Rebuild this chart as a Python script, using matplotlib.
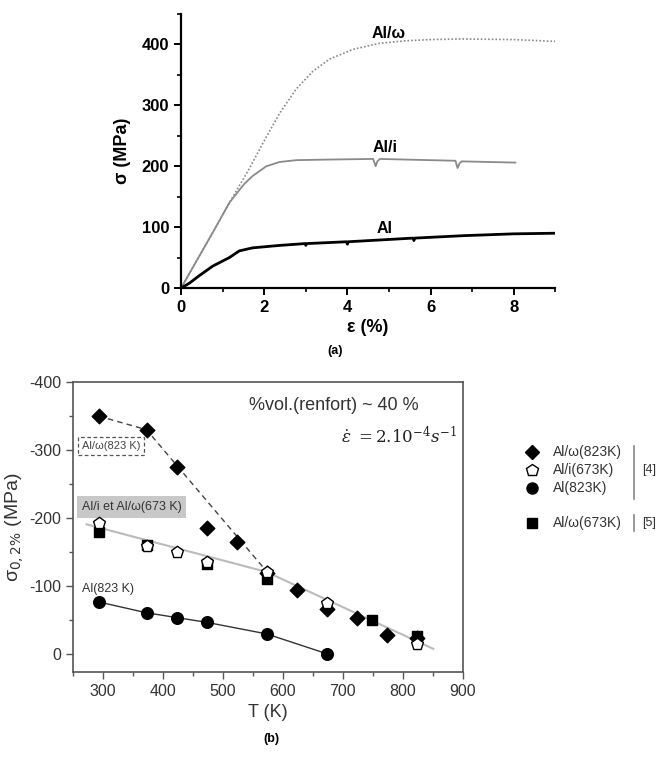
import numpy as np
import matplotlib.pyplot as plt
from matplotlib.ticker import MultipleLocator
from matplotlib.lines import Line2D

plt.rcParams['font.family'] = ['Liberation Sans', 'DejaVu Sans']
plt.rcParams['axes.unicode_minus'] = False

# ---- (a) stress-strain curves ----
eps_alw = [0, 0.4, 0.76, 1.16, 1.4, 1.64, 1.96, 2.37, 2.77, 3.17, 3.57, 4.14, 4.78, 5.4, 5.99, 6.79, 8.0, 9.0]
sig_alw = [0, 48, 91, 140, 168, 196, 237, 287, 327, 356, 376, 392, 402, 406, 408, 409, 408, 405]

eps_ali = [0, 0.4, 0.76, 1.16, 1.32, 1.52, 1.72, 2.05, 2.37, 2.77, 3.57, 4.62, 4.68, 4.72, 4.78,
           6.6, 6.65, 6.7, 6.75, 8.04]
sig_ali = [0, 48, 91, 140, 154, 171, 184, 200, 207, 210, 211, 212, 200, 208, 212,
           209, 197, 205, 208, 206]

eps_al = [0, 0.2, 0.43, 0.76, 1.16, 1.4, 1.72, 2.37, 2.98, 3.0, 3.02, 3.98, 4.0, 4.02,
          5.58, 5.6, 5.62, 6.79, 8.0, 9.0]
sig_al = [0, 8, 20, 36, 50, 61, 66, 70, 73, 70, 73, 76, 72, 76, 82, 78, 82, 86, 89, 90]

# ---- (b) yield stress vs temperature ----
T_alw823 = [293, 373, 423, 473, 523, 573, 623, 673, 723, 773, 823]
s_alw823 = [-350, -330, -275, -185, -165, -120, -94, -67, -53, -28, -24]

T_ali673 = [293, 373, 423, 473, 573, 673, 823]
s_ali673 = [-193, -159, -150, -135, -121, -75, -15]

T_al823 = [293, 373, 423, 473, 573, 673]
s_al823 = [-77, -61, -54, -47, -30, -1]

T_alw673 = [293, 373, 473, 573, 748, 823]
s_alw673 = [-179, -161, -133, -111, -51, -27]

T_dash = [293, 373, 573]
s_dash = [-350, -330, -122]
T_trend = [273, 573, 851]
s_trend = [-191, -121, -8]

fig = plt.figure(figsize=(6.61, 7.57), dpi=100)

# top panel
ax1 = fig.add_axes([0.274, 0.6195, 0.566, 0.362])
ax1.plot(eps_alw, sig_alw, color='#888888', lw=1.2, ls=(0, (1, 1.2)))
ax1.plot(eps_ali, sig_ali, color='#8a8a8a', lw=1.3)
ax1.plot(eps_al, sig_al, color='black', lw=2.0)
ax1.set_xlim(0, 9)
ax1.set_ylim(0, 450)
ax1.spines['top'].set_visible(False)
ax1.spines['right'].set_visible(False)
for s in ['left', 'bottom']:
    ax1.spines[s].set_linewidth(1.6)
ax1.xaxis.set_major_locator(MultipleLocator(2))
ax1.xaxis.set_minor_locator(MultipleLocator(1))
ax1.yaxis.set_major_locator(MultipleLocator(100))
ax1.yaxis.set_minor_locator(MultipleLocator(50))
ax1.tick_params(which='major', direction='out', length=5, width=1.4, labelsize=12)
ax1.tick_params(which='minor', direction='out', length=3, width=1.2)
for lab in ax1.get_xticklabels() + ax1.get_yticklabels():
    lab.set_fontweight('bold')
ax1.set_xlabel('ε (%)', fontsize=13, fontweight='bold', labelpad=3)
ax1.set_ylabel('σ (MPa)', fontsize=13, fontweight='bold', labelpad=8)
ax1.text(5.0, 418, 'Al/ω', fontsize=11.5, fontweight='bold', ha='center', va='center')
ax1.text(4.9, 230, 'Al/i', fontsize=11.5, fontweight='bold', ha='center', va='center')
ax1.text(4.9, 97, 'Al', fontsize=11.5, fontweight='bold', ha='center', va='center')
fig.text(0.507, 0.533, '(a)', fontsize=9, fontweight='bold', ha='center')

# bottom panel
ax2 = fig.add_axes([0.110, 0.1123, 0.590, 0.383])
gray_edge = '#555555'
ax2.plot(T_dash, s_dash, color='#444444', lw=1.0, ls=(0, (4, 3)), zorder=2)
ax2.plot(T_trend, s_trend, color='#bbbbbb', lw=1.5, zorder=1)
ax2.plot(T_al823, s_al823, color='#333333', lw=1.0, zorder=2)
ax2.scatter(T_alw823, s_alw823, marker='D', s=55, color='black', zorder=4)
ax2.scatter(T_alw673, s_alw673, marker='s', s=45, color='black', zorder=3)
ax2.scatter(T_ali673, s_ali673, marker='p', s=80, facecolor='white', edgecolor='black', lw=1.0, zorder=5)
ax2.scatter(T_al823, s_al823, marker='o', s=70, color='black', zorder=4)
ax2.set_xlim(250, 900)
ax2.set_ylim(26, -400)
for s in ax2.spines.values():
    s.set_color(gray_edge)
    s.set_linewidth(1.2)
ax2.xaxis.set_major_locator(MultipleLocator(100))
ax2.xaxis.set_minor_locator(MultipleLocator(50))
ax2.yaxis.set_major_locator(MultipleLocator(100))
ax2.yaxis.set_minor_locator(MultipleLocator(50))
ax2.tick_params(which='major', direction='out', length=5, width=1.0, color=gray_edge,
                labelsize=11.5, labelcolor='#333333')
ax2.tick_params(which='minor', direction='out', length=3, width=1.0, color=gray_edge)
ax2.set_xlabel('T (K)', fontsize=13, color='#333333', labelpad=4)
ax2.set_ylabel('σ$_{0,2\\%}$ (MPa)', fontsize=14, color='#333333', labelpad=2)
ax2.text(0.67, 0.92, '%vol.(renfort) ~ 40 %', transform=ax2.transAxes, fontsize=13,
         color='#333333', ha='center', va='center')
ax2.text(0.985, 0.815, r'$\dot{\epsilon}\ =2.10^{-4}s^{-1}$', transform=ax2.transAxes,
         fontsize=12, color='#222222', ha='right', va='center', math_fontfamily='dejavuserif')
ax2.text(265, -306, 'Al/ω(823 K)', fontsize=8, color='#444444', va='center',
         bbox=dict(boxstyle='square,pad=0.35', facecolor='white', edgecolor='#555555',
                   ls=(0, (3, 2)), lw=0.9))
ax2.text(265, -216, 'Al/i et Al/ω(673 K)', fontsize=9, color='#333333', va='center',
         bbox=dict(boxstyle='square,pad=0.4', facecolor='#c8c8c8', edgecolor='none'))
ax2.text(265, -96, 'Al(823 K)', fontsize=9, color='#333333', va='center')
fig.text(0.411, 0.020, '(b)', fontsize=9, fontweight='bold', ha='center')

# external legend
leg_x_mark = 0.805
leg_x_text = 0.836
rows = [(0.403, 'D', 'black', 'black', 'Al/ω(823K)', 7),
        (0.379, 'p', 'white', 'black', 'Al/i(673K)', 9),
        (0.355, 'o', 'black', 'black', 'Al(823K)', 8),
        (0.309, 's', 'black', 'black', 'Al/ω(673K)', 7)]
for y, m, fc, ec, lab, ms in rows:
    fig.add_artist(Line2D([leg_x_mark], [y], marker=m, markersize=ms, markerfacecolor=fc,
                          markeredgecolor=ec, ls='none', transform=fig.transFigure))
    fig.text(leg_x_text, y, lab, fontsize=10, color='#333333', va='center')
fig.add_artist(Line2D([0.959, 0.959], [0.341, 0.411], color='#888888', lw=1.2,
                      transform=fig.transFigure))
fig.text(0.972, 0.379, '[4]', fontsize=9, color='#333333', va='center')
fig.add_artist(Line2D([0.959, 0.959], [0.298, 0.320], color='#888888', lw=1.2,
                      transform=fig.transFigure))
fig.text(0.972, 0.309, '[5]', fontsize=9, color='#333333', va='center')

fig.savefig('out.png', dpi=100)
